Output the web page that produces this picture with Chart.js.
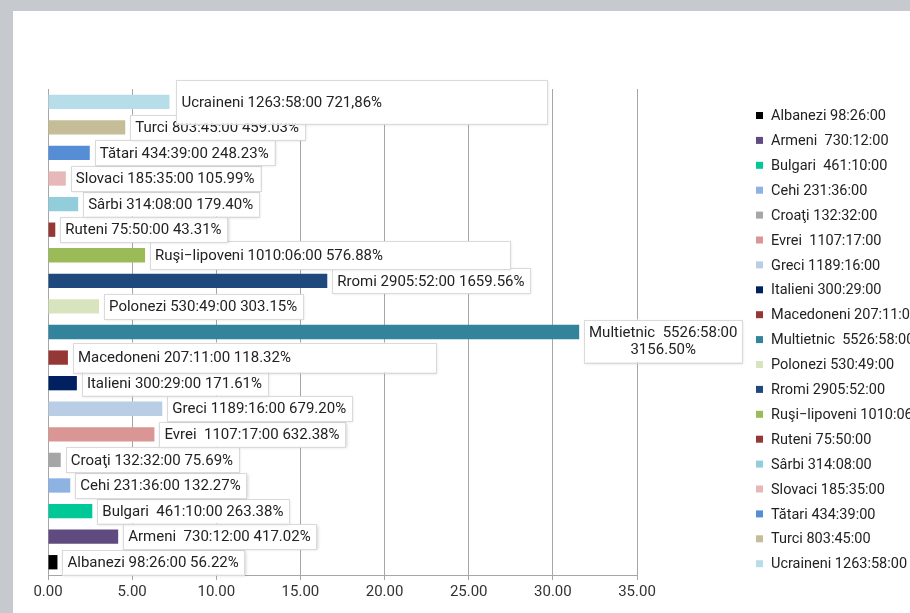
<!DOCTYPE html>
<html>
<head>
<meta charset="utf-8">
<script src="https://cdn.jsdelivr.net/npm/chart.js@4/dist/chart.umd.min.js"></script>
<style>
  html, body { margin: 0; padding: 0; background: #c6c9ce; overflow: hidden; }
  #panel { position: absolute; left: 13px; top: 11px; width: 897px; height: 602px; background: #fff; }
  canvas { display: block; }
</style>
</head>
<body>
<div id="panel"><canvas id="chart" width="897" height="602"></canvas></div>
<script>
const categories = ["Albanezi", "Armeni ", "Bulgari ", "Cehi", "Croaţi", "Evrei ", "Greci", "Italieni",
  "Macedoneni", "Multietnic ", "Polonezi", "Rromi", "Ruşi\u2212lipoveni", "Ruteni", "Sârbi",
  "Slovaci", "Tătari", "Turci", "Ucraineni"];
const durations = ["98:26:00", "730:12:00", "461:10:00", "231:36:00", "132:32:00", "1107:17:00",
  "1189:16:00", "300:29:00", "207:11:00", "5526:58:00", "530:49:00", "2905:52:00", "1010:06:00",
  "75:50:00", "314:08:00", "185:35:00", "434:39:00", "803:45:00", "1263:58:00"];
const pctLabels = ["56.22%", "417.02%", "263.38%", "132.27%", "75.69%", "632.38%", "679.20%",
  "171.61%", "118.32%", "3156.50%", "303.15%", "1659.56%", "576.88%", "43.31%", "179.40%",
  "105.99%", "248.23%", "459.03%", "721,86%"];
const values = [0.5622, 4.1702, 2.6338, 1.3227, 0.7569, 6.3238, 6.7920, 1.7161, 1.1832, 31.5650,
  3.0315, 16.5956, 5.7688, 0.4331, 1.7940, 1.0599, 2.4823, 4.5903, 7.2186];
const colors = ["#000000", "#5f4b7f", "#00c997", "#8db3e2", "#a6a6a6", "#d99694", "#b9cde5",
  "#002060", "#953735", "#31849b", "#d7e4bd", "#1f497d", "#9bbb59", "#953735", "#92cddc",
  "#e6b9b8", "#558ed5", "#c4bd97", "#b7dee8"];
const xMin = 0, xMax = 35, xStep = 5;

const FONT = "Roboto, 'Noto Sans', sans-serif";

// label boxes that are not sized to their text
const boxOverride = {
  "Ucraineni": { w: 371, h: 44, dx: 2 },
  "Ruşi\u2212lipoveni": { w: 360, h: 28 },
  "Macedoneni": { w: 363, h: 30 },
  "Multietnic ": { w: 158, h: 43, wrap: true, dy: 9 }
};

const barLabels = {
  id: "barLabels",
  afterDatasetsDraw(chart) {
    const ctx = chart.ctx;
    const meta = chart.getDatasetMeta(0);
    ctx.save();
    ctx.font = "15px " + FONT;
    ctx.textBaseline = "middle";
    meta.data.forEach((bar, i) => {
      const name = categories[i];
      const o = boxOverride[name] || {};
      const lines = o.wrap
        ? [name + " " + durations[i], pctLabels[i]]
        : [name + " " + durations[i] + " " + pctLabels[i]];
      const tw = Math.max(...lines.map(l => ctx.measureText(l).width));
      const w = o.w || tw + 11;
      const h = o.h || 25;
      const x = bar.x + 5 + (o.dx || 0);
      const y = bar.y - h / 2 + (o.dy || 0);
      ctx.save();
      ctx.shadowColor = "rgba(0,0,0,0.18)";
      ctx.shadowBlur = 3;
      ctx.shadowOffsetX = 1;
      ctx.shadowOffsetY = 1;
      ctx.fillStyle = "#fff";
      ctx.fillRect(x, y, w, h);
      ctx.restore();
      ctx.strokeStyle = "#dadada";
      ctx.lineWidth = 1;
      ctx.strokeRect(Math.round(x) + 0.5, Math.round(y) + 0.5, Math.round(w), Math.round(h));
      ctx.fillStyle = "#222";
      if (o.wrap) {
        ctx.textAlign = "center";
        ctx.fillText(lines[0], x + w / 2, y + h / 2 - 8);
        ctx.fillText(lines[1], x + w / 2, y + h / 2 + 9);
      } else {
        ctx.textAlign = "left";
        ctx.fillText(lines[0], x + 5, y + h / 2 + 1);
      }
    });
    ctx.restore();
  }
};

const sideLegend = {
  id: "sideLegend",
  afterDraw(chart) {
    const ctx = chart.ctx;
    ctx.save();
    ctx.font = "14.5px " + FONT;
    ctx.textBaseline = "middle";
    ctx.textAlign = "left";
    categories.forEach((name, i) => {
      const y = 104.5 + i * 24.9;
      ctx.fillStyle = colors[i];
      ctx.fillRect(743, y - 3.5, 7, 7);
      ctx.fillStyle = "#222";
      ctx.fillText(name + " " + durations[i], 758, y + 1);
    });
    ctx.restore();
  }
};

new Chart(document.getElementById("chart"), {
  type: "bar",
  data: {
    labels: categories,
    datasets: [{
      data: values,
      backgroundColor: colors,
      barPercentage: 0.56,
      categoryPercentage: 1
    }]
  },
  options: {
    responsive: false,
    animation: false,
    indexAxis: "y",
    layout: { padding: { left: 35, right: 273, top: 78, bottom: 9 } },
    plugins: { legend: { display: false }, tooltip: { enabled: false } },
    scales: {
      x: {
        min: xMin, max: xMax,
        ticks: { stepSize: xStep, color: "#333", font: { family: FONT, size: 15 }, padding: 3,
          callback: v => Number(v).toFixed(2) },
        grid: { color: "#a6a6a6", tickLength: 5 },
        border: { color: "#a6a6a6" }
      },
      y: { display: false, reverse: true }
    }
  },
  plugins: [barLabels, sideLegend]
});
</script>
</body>
</html>
